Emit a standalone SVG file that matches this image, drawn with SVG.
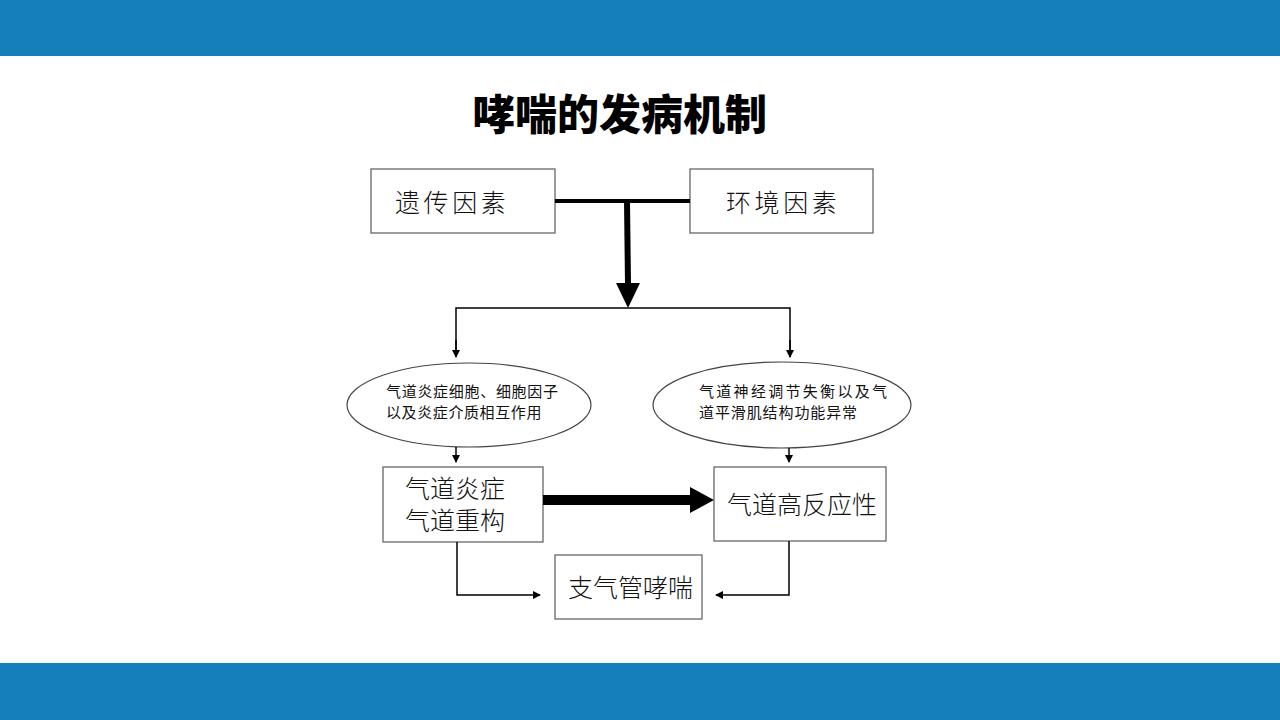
<svg xmlns="http://www.w3.org/2000/svg" width="1280" height="720" viewBox="0 0 1280 720">
<style>
.box{fill:#fff;stroke:#5a5a5a;stroke-width:1.2}
.ell{fill:#fff;stroke:#444;stroke-width:1.2}
.bt{font-family:"Liberation Serif","Noto Sans CJK SC",serif;font-size:25px;font-weight:300;fill:#111}
.et{font-family:"Liberation Sans","Noto Sans CJK SC",sans-serif;font-size:15px;fill:#111}
.thin{fill:none;stroke:#000;stroke-width:1.5}
</style>
<defs>
<marker id="ah" markerWidth="8" markerHeight="8" refX="7" refY="4" orient="auto" markerUnits="userSpaceOnUse">
<path d="M0,0 L8,4 L0,8 Z" fill="#000"/>
</marker>
</defs>
<rect x="0" y="0" width="1280" height="56" fill="#147FBA"/>
<rect x="0" y="663" width="1280" height="57" fill="#147FBA"/>
<text x="620" y="130" text-anchor="middle" font-family="Noto Sans CJK SC, sans-serif" font-weight="900" font-size="42" fill="#000">哮喘的发病机制</text>

<g id="n-yichuan"><rect class="box" x="371" y="169" width="184" height="64"/><text class="bt" x="395" y="212" font-size="28" letter-spacing="3.6">遗传因素</text></g>
<g id="n-huanjing"><rect class="box" x="690" y="169" width="183" height="64"/><text class="bt" x="726" y="212" font-size="28" letter-spacing="3.6">环境因素</text></g>
<g id="n-ell1"><ellipse class="ell" cx="469" cy="405" rx="122" ry="42"/><text class="et" x="386" y="397" letter-spacing="0.7">气道炎症细胞、细胞因子</text><text class="et" x="386" y="418" letter-spacing="0.6">以及炎症介质相互作用</text></g>
<g id="n-ell2"><ellipse class="ell" cx="782" cy="405" rx="129" ry="43"/><text class="et" x="699" y="397" letter-spacing="2.3">气道神经调节失衡以及气</text><text class="et" x="699" y="418" letter-spacing="0.9">道平滑肌结构功能异常</text></g>
<g id="n-yanzheng"><rect class="box" x="383" y="467" width="160" height="75"/><text class="bt" x="405" y="498">气道炎症</text><text class="bt" x="405" y="530">气道重构</text></g>
<g id="n-gaofanying"><rect class="box" x="714" y="467" width="172" height="74"/><text class="bt" x="727" y="514">气道高反应性</text></g>
<g id="n-xiaochuan"><rect class="box" x="555" y="555" width="147" height="64"/><text class="bt" x="568" y="597">支气管哮喘</text></g>

<g id="connectors">
<line x1="555" y1="201" x2="690" y2="201" stroke="#000" stroke-width="4"/>
<line x1="627" y1="201" x2="628" y2="284" stroke="#000" stroke-width="6"/>
<path d="M616,283 L640,283 L628,308 Z" fill="#000"/>
<path class="thin" d="M456,357 V308 H790 V357"/>
<line class="thin" x1="456" y1="340" x2="456" y2="357" marker-end="url(#ah)"/>
<line class="thin" x1="790" y1="340" x2="790" y2="357" marker-end="url(#ah)"/>
<line class="thin" x1="456" y1="447" x2="456" y2="462" marker-end="url(#ah)"/>
<line class="thin" x1="789" y1="448" x2="789" y2="462" marker-end="url(#ah)"/>
<line x1="543" y1="500" x2="692" y2="500" stroke="#000" stroke-width="10"/>
<path d="M690,487 L714,500 L690,513 Z" fill="#000"/>
<path class="thin" d="M457,542 V595 H540" marker-end="url(#ah)"/>
<path class="thin" d="M789,541 V595 H716" marker-end="url(#ah)"/>
</g>
</svg>
